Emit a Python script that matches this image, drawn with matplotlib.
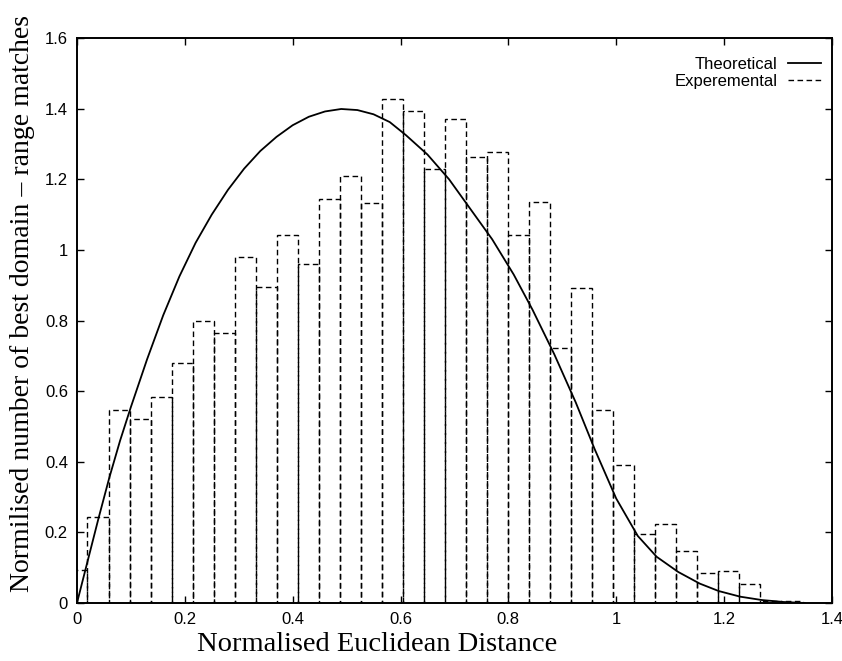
import numpy as np
import matplotlib
matplotlib.use("Agg")
import matplotlib.pyplot as plt
from matplotlib.lines import Line2D
from matplotlib.ticker import FormatStrFormatter

bin_width = 0.039
exp_heights = [0.093, 0.244, 0.547, 0.520, 0.584, 0.681, 0.799, 0.764, 0.979, 0.896,
               1.041, 0.960, 1.144, 1.208, 1.132, 1.428, 1.394, 1.228, 1.371, 1.263,
               1.278, 1.042, 1.137, 0.721, 0.893, 0.547, 0.391, 0.195, 0.225, 0.148,
               0.084, 0.0915, 0.055, 0.005, 0.005]
exp_centers = np.arange(len(exp_heights)) * bin_width

## Theoretical curve, points
theo_x = [0.0, 0.02, 0.04, 0.06, 0.08, 0.10, 0.13, 0.16, 0.19, 0.22,
          0.25, 0.28, 0.31, 0.34, 0.37, 0.40, 0.43, 0.46, 0.49, 0.52,
          0.55, 0.58, 0.61, 0.65, 0.69, 0.73, 0.77, 0.81, 0.845, 0.885,
          0.925, 0.96, 1.0, 1.04, 1.075, 1.115, 1.155, 1.19, 1.23, 1.27,
          1.31, 1.35]
theo_y = [0.0, 0.12, 0.24, 0.355, 0.46, 0.555, 0.69, 0.815, 0.925, 1.02,
          1.10, 1.17, 1.23, 1.28, 1.32, 1.353, 1.377, 1.392, 1.399, 1.396,
          1.384, 1.362, 1.325, 1.27, 1.20, 1.115, 1.03, 0.93, 0.83, 0.705,
          0.568, 0.436, 0.296, 0.19, 0.131, 0.088, 0.055, 0.034, 0.018, 0.0085,
          0.003, 0.0]

x_ticks = [0, 0.2, 0.4, 0.6, 0.8, 1.0, 1.2, 1.4]
y_ticks = [0, 0.2, 0.4, 0.6, 0.8, 1.0, 1.2, 1.4, 1.6]

dash = (0, (4, 2.5))

fig = plt.figure(figsize=(8.42, 6.61), dpi=100)
ax = fig.add_axes([0.0914, 0.0877, 0.8966, 0.8548])

ax.plot(theo_x, theo_y, color='black', lw=1.3)
ax.bar(exp_centers, exp_heights, width=bin_width, fill=False, edgecolor='black',
       linewidth=1.0, linestyle=dash)

ax.set_xlim(0, 1.4)
ax.set_ylim(0, 1.6)
ax.set_xticks(x_ticks)
ax.set_yticks(y_ticks)
ax.xaxis.set_major_formatter(FormatStrFormatter('%g'))
ax.yaxis.set_major_formatter(FormatStrFormatter('%g'))
ax.tick_params(direction='in', length=5, width=1.0, top=True, right=True,
               labelsize=12, pad=6.5)
for lab in ax.get_xticklabels() + ax.get_yticklabels():
    lab.set_family('Liberation Sans')
for s in ax.spines.values():
    s.set_linewidth(1.4)

ax.set_xlabel('Normalised Euclidean Distance', family='Liberation Serif', fontsize=20.5)
ax.set_ylabel('Normilised number of best domain \u2013 range matches',
              family='Liberation Serif', fontsize=20)
# label placed left of centre, as in the original
ax.xaxis.set_label_coords(0.397, -0.051)
ax.yaxis.set_label_coords(-0.056, 0.53)

## gnuplot-style key: text first, sample line after
handles = [Line2D([], [], color='black', lw=1.3),
           Line2D([], [], color='black', lw=1.0, linestyle=dash)]
ax.legend(handles, ['Theoretical', 'Experemental'], loc='upper right',
          bbox_to_anchor=(0.999, 0.984), frameon=False,
          markerfirst=False, handlelength=2.0, handletextpad=0.6,
          labelspacing=0.12, borderaxespad=0.2,
          prop={'family': 'Liberation Sans', 'size': 12})

fig.savefig('out.png', dpi=100)
